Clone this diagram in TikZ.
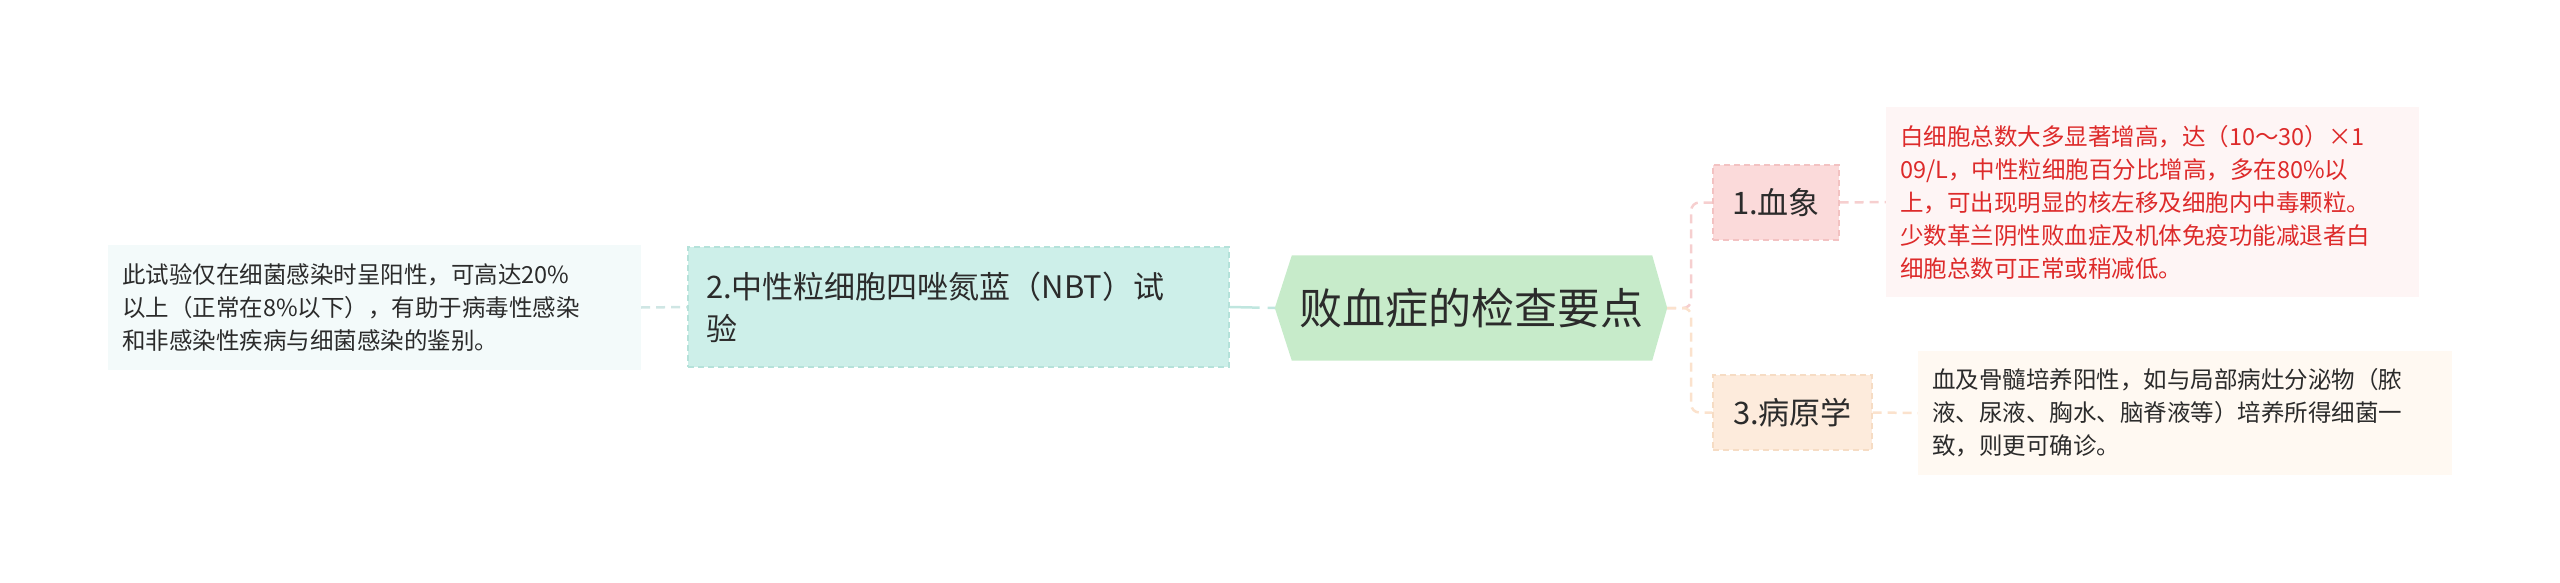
\documentclass[tikz,border=0pt]{standalone}
\usepackage{fontspec}
\setmainfont{Noto Sans CJK SC}
\usetikzlibrary{calc}
\pgfdeclarelayer{bg}
\pgfsetlayers{bg,main}
\definecolor{hexfill}{HTML}{C7EBCA}
\definecolor{ntwofill}{HTML}{CDEFE9}
\definecolor{ntwoline}{HTML}{B5E2DA}
\definecolor{ltwofill}{HTML}{F3FAFA}
\definecolor{nonefill}{HTML}{FBDADA}
\definecolor{noneline}{HTML}{F3C2C2}
\definecolor{lonefill}{HTML}{FEF5F5}
\definecolor{nthrfill}{HTML}{FDEBDC}
\definecolor{nthrline}{HTML}{F6DCC4}
\definecolor{lthrfill}{HTML}{FFF9F2}
\definecolor{redtext}{HTML}{DD2A2A}
\definecolor{darktext}{HTML}{2B2B2B}
\definecolor{tealline}{HTML}{C0E6DF}
\definecolor{leftline}{HTML}{CFE6E4}
\definecolor{pinkline}{HTML}{F6CFCF}
\definecolor{peachline}{HTML}{FBE2CD}
\tikzset{
  leafbox/.style={inner xsep=14pt, inner ysep=0pt, align=left, text=darktext,
    font=\fontsize{23.5}{33}\selectfont},
  topicbox/.style={inner sep=0pt, align=left, text=darktext,
    font=\fontsize{31}{42}\selectfont, dash pattern=on 6pt off 4pt, line width=1.2pt},
  conn/.style={line width=2.5pt, dash pattern=on 9pt off 6pt},
}
\begin{document}
\begin{tikzpicture}[x=1pt,y=-1pt]
\useasboundingbox (0,0) rectangle (2560,583);
% center
\node[inner sep=0pt, minimum width=392pt, minimum height=105pt, text=darktext,
  font=\fontsize{43}{50}\selectfont] (c) at (1471,308) {败血症的检查要点};
% topic 2
\node[topicbox, fill=ntwofill, draw=ntwoline, minimum width=541pt, minimum height=120pt,
  inner xsep=18pt, text width=505pt] (n2) at (958.5,307) {2.中性粒细胞四唑氮蓝（NBT）试\\验};
% leaf 2
\node[leafbox, fill=ltwofill, minimum width=533pt, minimum height=125pt, text width=505pt]
  (l2) at (374.5,307.5) {此试验仅在细菌感染时呈阳性，可高达20\%\\以上（正常在8\%以下），有助于病毒性感染\\和非感染性疾病与细菌感染的鉴别。};
% topic 1
\node[topicbox, fill=nonefill, draw=noneline, minimum width=126pt, minimum height=75pt]
  (n1) at (1776,202.5) {1.血象};
% leaf 1
\node[leafbox, fill=lonefill, text=redtext, minimum width=533pt, minimum height=190pt, text width=505pt]
  (l1) at (2152.5,202) {白细胞总数大多显著增高，达（10～30）×1\\09/L，中性粒细胞百分比增高，多在80\%以\\上，可出现明显的核左移及细胞内中毒颗粒。\\少数革兰阴性败血症及机体免疫功能减退者白\\细胞总数可正常或稍减低。};
% topic 3
\node[topicbox, fill=nthrfill, draw=nthrline, minimum width=159pt, minimum height=75pt]
  (n3) at (1792.5,412.5) {3.病原学};
% leaf 3
\node[leafbox, fill=lthrfill, minimum width=534pt, minimum height=124pt, text width=506pt]
  (l3) at (2185,413) {血及骨髓培养阳性，如与局部病灶分泌物（脓\\液、尿液、胸水、脑脊液等）培养所得细菌一\\致，则更可确诊。};
\coordinate (fork) at ($(c.east)+(24,0)$);
\begin{pgfonlayer}{bg}
\fill[hexfill] (c.west) -- ([xshift=17pt]c.north west) -- ([xshift=-15pt]c.north east)
  -- (c.east) -- ([xshift=-15pt]c.south east) -- ([xshift=17pt]c.south west) -- cycle;
\draw[conn, leftline] (l2.east) -- (n2.west);
\draw[conn, tealline, dash pattern=on 30pt off 8pt] (n2.east) -- (c.west);
\draw[conn, pinkline, rounded corners=8pt] (c.east) -- (fork) |- (n1.west);
\draw[conn, peachline, rounded corners=8pt] (c.east) -- (fork) |- (n3.west);
\draw[conn, pinkline] (n1.east) -- (l1.west);
\draw[conn, peachline] (n3.east) -- (l3.west);
\end{pgfonlayer}
\end{tikzpicture}
\end{document}
